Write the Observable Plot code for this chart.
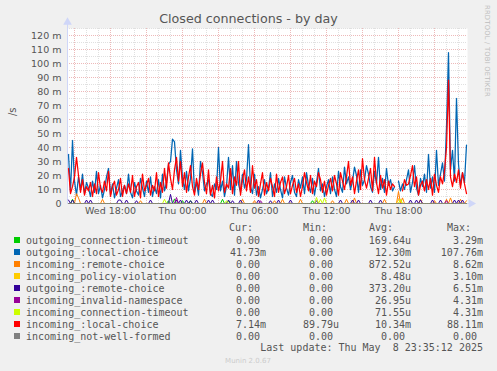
<!DOCTYPE html>
<html><head><meta charset="utf-8">
<script src="https://cdn.jsdelivr.net/npm/d3@7"></script>
<script src="https://cdn.jsdelivr.net/npm/@observablehq/plot@0.6"></script>
<style>
html,body{margin:0;padding:0;background:#F0F0F0;}
#wrap{position:relative;width:497px;height:371px;background:#F0F0F0;overflow:hidden;font-family:"DejaVu Sans",sans-serif;}
#wrap svg{position:absolute;left:0;top:0;}
#title{position:absolute;left:0;width:497px;top:10px;text-align:center;font-size:12.7px;color:#555;line-height:18px;}
#rrd{position:absolute;left:483px;top:5px;writing-mode:vertical-rl;font-size:6.8px;color:#bdbdbd;letter-spacing:0.2px;}
</style></head><body><div id="wrap"><div id="title">Closed connections - by day</div><div id="rrd">RRDTOOL / TOBI OETIKER</div></div>
<script>
// ---------- data (values in milli-units per second, 10-minute steps from Wed 14:30) ----------
const seriesNames = ["outgoing_connection-timeout","outgoing_:local-choice","incoming_:remote-choice","incoming_policy-violation","outgoing_:remote-choice","incoming_invalid-namespace","incoming_connection-timeout","incoming_:local-choice","incoming_not-well-formed"];
const seriesColors = ["#00CC00","#0066B3","#FF8000","#FFCC00","#330099","#990099","#CCFF00","#FF0000","#808080"];

const outgoingLocalChoice = [
35,8,45,16,6,19,10,21,7,15,
11,5,16,8,23,7,13,4,10,19,
25,6,14,4,11,17,5,9,13,7,
21,8,4,15,9,6,18,11,5,16,
8,19,5,12,7,17,4,21,9,15,
28,30,46,44,24,14,38,18,10,23,
9,18,39,8,15,6,30,22,9,14,
17,7,5,14,10,40,9,16,5,12,
33,10,27,6,30,14,8,21,11,17,
42,12,7,21,6,12,4,10,17,7,
11,22,5,14,8,18,10,4,19,11,
6,15,20,8,5,17,11,19,7,22,
13,8,18,6,15,25,9,14,5,12,
17,7,19,10,5,23,12,8,26,14,
19,10,16,26,20,8,24,13,17,27,
21,12,8,23,14,33,10,18,8,25,
13,17,9,12,null,16,9,14,10,17,
24,8,15,27,11,6,18,12,21,8,
35,11,19,8,38,13,21,29,16,55,
107.76,24,38,16,75,28,13,22,15,41.73];

const incomingLocalChoice = [
25,7,12,19,33,20,8,17,6,12,
9,15,5,14,7,22,11,8,16,9,
23,5,12,16,6,10,18,5,13,7,
14,8,20,5,12,15,4,21,9,13,
18,6,13,9,22,5,15,8,25,11,
29,18,10,24,33,16,30,12,22,8,
19,27,12,6,18,10,21,29,15,7,
24,6,13,4,19,9,16,30,8,14,
11,25,7,19,13,30,6,17,24,9,
19,8,27,11,17,5,14,22,6,15,
9,18,12,5,21,8,15,19,7,12,
20,7,13,18,8,14,5,12,22,15,
9,20,7,16,12,22,17,8,16,6,
13,18,9,20,14,6,22,16,10,19,
30,13,19,7,16,24,10,32,17,11,
18,25,9,33,15,7,20,11,17,6,
16,10,14,12,null,null,null,9,17,13,
14,20,27,12,19,6,13,16,9,17,
10,18,6,21,13,8,19,14,23,40,
88.11,19,12,21,15,24,11,22,14,7.14];

// sparse small series: [step index, value]; all other steps are 0
const outgoingConnTimeoutSpikes = [[2,3],[50,2],[53,3.29],[57,2],[61,2],[77,3],[80,2],[122,2]];
const incomingRemoteChoiceSpikes = [[4,7],[5,4],[17,3],[36,2],[68,3],[87,3],[93,2],[103,2],[107,3],[116,3],[132,2],[139,3],[143,4],[158,3],[165,8.62],[167,4],[176,3],[183,2],[189,3],[191,4],[196,3],[199,2]];
const incomingPolicySpikes = [[165,3.1],[166,2]];
const outgoingRemoteChoiceSpikes = [[0,2.5],[2,2.5],[9,2.5],[11,2.5],[25,2.5],[26,2.5],[29,2.5],[34,2],[41,2.5],[51,6.51],[54,2.5],[56,2.5],[59,2.5],[61,2],[64,2.5],[70,2.5],[72,2.5],[80,2.5],[82,2],[86,2.5],[95,2.5],[101,2],[105,2.5],[111,2.5],[124,2],[136,2.5],[142,2.5],[145,2.5],[151,2.5],[156,2.5],[171,2.5],[174,2.5],[176,2.5],[182,2.5],[186,2.5],[193,2.5],[195,2.5],[197,2.5]];
const incomingInvalidNsSpikes = [[54,4.31],[96,2],[189,2]];
const incomingConnTimeoutSpikes = [[48,3],[79,2],[124,4.31],[126,3],[128,4],[166,3]];
const incomingNotWellFormedSpikes = [];

const curValues = ["0.00","41.73m","0.00","0.00","0.00","0.00","0.00","7.14m","0.00"];
const minValues = ["0.00","0.00","0.00","0.00","0.00","0.00","0.00","89.79u","0.00"];
const avgValues = ["169.64u","12.30m","872.52u","8.48u","373.20u","26.95u","71.55u","10.34m","0.00"];
const maxValues = ["3.29m","107.76m","8.62m","3.10m","6.51m","4.31m","4.31m","88.11m","0.00"];
const columnHeaders = ["Cur:","Min:","Avg:","Max:"];
const xTickLabels = ["Wed 18:00","Thu 00:00","Thu 06:00","Thu 12:00","Thu 18:00"];
const yTickValues = [0,10,20,30,40,50,60,70,80,90,100,110,120];
const lastUpdate = "Last update: Thu May  8 23:35:12 2025";
const footer = "Munin 2.0.67";

// ---------- build ----------
const HOUR = 3600000;
const t0 = Date.UTC(2025,4,7,14,30);
const N = outgoingLocalChoice.length;
const times = d3.range(N).map(i => new Date(t0 + i*600000));
function fromSpikes(sp){ const a = new Array(N).fill(0); sp.forEach(([i,v]) => a[i] = v); return a; }
const seriesValues = [
  fromSpikes(outgoingConnTimeoutSpikes), outgoingLocalChoice, fromSpikes(incomingRemoteChoiceSpikes),
  fromSpikes(incomingPolicySpikes), fromSpikes(outgoingRemoteChoiceSpikes), fromSpikes(incomingInvalidNsSpikes),
  fromSpikes(incomingConnTimeoutSpikes), incomingLocalChoice, fromSpikes(incomingNotWellFormedSpikes)];
const xStart = new Date(Date.UTC(2025,4,7,14,25));
const xEnd = new Date(Date.UTC(2025,4,8,23,45));
const hours = d3.utcHour.range(xStart, xEnd);
const majorX = hours.filter(d => d.getUTCHours() % 3 === 0);
const minorX = hours.filter(d => d.getUTCHours() % 3 !== 0);
const fmt = d3.utcFormat("%a %H:%M");
const xTicks = hours.filter(d => xTickLabels.includes(fmt(d)));

const lineMarks = seriesValues.map((vals, k) => Plot.line(
  times.map((t,i) => ({t, v: vals[i] == null ? NaN : vals[i]})),
  {x: "t", y: "v", stroke: seriesColors[k], strokeWidth: (k===1||k===7) ? 1.25 : 1, curve: "linear"}));

const axisColor = "#CFD6F8";
const minorGrid = "#e0e0e0", majorGrid = "#edb9b9";
const chart = Plot.plot({
  width: 497, height: 225,
  marginLeft: 67, marginRight: 30, marginTop: 28, marginBottom: 22,
  style: {background: "transparent", fontFamily: "DejaVu Sans", fontSize: "9.5px", color: "#555", overflow: "visible"},
  x: {type: "utc", domain: [xStart, xEnd]},
  y: {domain: [0, 125]},
  marks: [
    Plot.frame({fill: "white", stroke: null}),
    Plot.ruleY(d3.range(5, 126, 10), {stroke: minorGrid, strokeDasharray: "1,1", shapeRendering: "crispEdges"}),
    Plot.ruleX(minorX, {stroke: minorGrid, strokeDasharray: "1,1", shapeRendering: "crispEdges"}),
    Plot.ruleY(d3.range(10, 121, 10), {stroke: majorGrid, strokeDasharray: "1,1", shapeRendering: "crispEdges"}),
    Plot.ruleX(majorX, {stroke: majorGrid, strokeDasharray: "1,1", shapeRendering: "crispEdges"}),
    Plot.axisY({ticks: yTickValues, tickSize: 0, tickPadding: 6, label: null, tickFormat: d => d === 0 ? "0" : d + " m"}),
    Plot.axisX({ticks: xTicks, tickSize: 0, tickPadding: 4, label: null, tickFormat: d => fmt(d)}),
    Plot.ruleX([xStart], {y1: 0, y2: 129, stroke: axisColor, shapeRendering: "crispEdges"}),
    Plot.ruleY([0], {x1: xStart, x2: new Date(+xEnd + 0.3*HOUR), stroke: axisColor, shapeRendering: "crispEdges"}),
    Plot.dot([0], {x: xStart, y: 129.5, symbol: "triangle", r: 3.2, fill: axisColor, stroke: null}),
    Plot.dot([0], {x: new Date(+xEnd + 0.3*HOUR), y: 0, symbol: "triangle", rotate: 90, r: 3.2, fill: axisColor, stroke: null}),
    ...lineMarks,
    Plot.text(["/s"], {frameAnchor: "left", dx: -55, rotate: -90, fontSize: 10, fill: "#555"})
  ]
});
const wrap = document.getElementById("wrap");

// legend svg (below chart)
const L = d3.create("svg").attr("width", 497).attr("height", 371)
  .style("font-family", "'DejaVu Sans Mono', monospace").style("font-size", "10px").style("white-space", "pre");
const headX = [229, 303, 369, 447];
columnHeaders.forEach((h,j) => L.append("text").attr("x", headX[j]).attr("y", 231).attr("fill", "#555").text(h));
const colR = [266, 339, 411, 483];
seriesNames.forEach((name, k) => {
  const cy = 240 + 12*k;
  L.append("rect").attr("x", 14).attr("y", cy-3).attr("width", 6).attr("height", 6).attr("fill", seriesColors[k]);
  L.append("text").attr("x", 26).attr("y", cy+3.5).attr("fill", "#555").text(name);
  [curValues[k], minValues[k], avgValues[k], maxValues[k]].forEach((v, j) => {
    const hasSuffix = /[a-zA-Z]$/.test(v);
    L.append("text").attr("x", colR[j] - (hasSuffix ? 0 : 6)).attr("y", cy+3.5).attr("text-anchor", "end").attr("fill", "#555").text(v);
  });
});
L.append("text").attr("x", 483).attr("y", 351).attr("text-anchor", "end").attr("fill", "#555")
  .attr("xml:space", "preserve").style("white-space", "pre").text(lastUpdate);
L.append("text").attr("x", 248).attr("y", 363).attr("text-anchor", "middle").attr("fill", "#cccccc")
  .style("font-family", "'DejaVu Sans', sans-serif").style("font-size", "7px").text(footer);
wrap.appendChild(L.node());
wrap.appendChild(chart);
</script>
</body></html>
